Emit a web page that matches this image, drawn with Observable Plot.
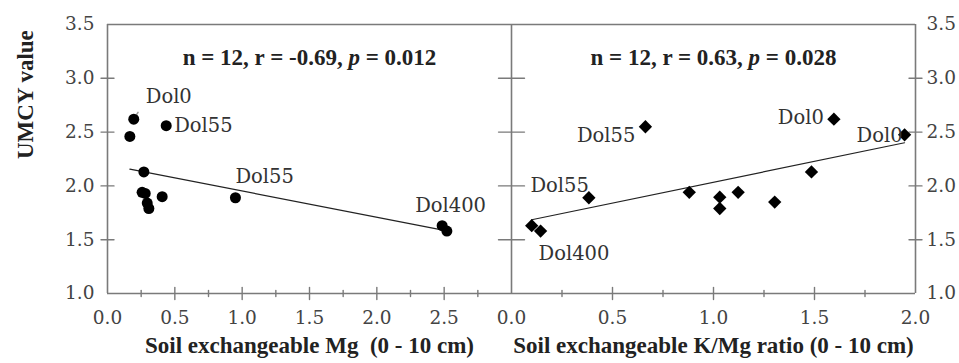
<!DOCTYPE html>
<html><head><meta charset="utf-8">
<script src="https://cdn.jsdelivr.net/npm/d3@7"></script>
<script src="https://cdn.jsdelivr.net/npm/@observablehq/plot@0.6"></script>
<style>
body{margin:0;background:#fff;}
#chart{position:relative;width:959px;height:363px;}
#chart svg{position:absolute;left:0;top:0;}
</style></head><body><div id="chart"></div>
<script>
// Left panel: Soil exchangeable Mg vs UMCY value
const mgX = [0.195, 0.166, 0.436, 0.27, 0.257, 0.28, 0.406, 0.295, 0.307, 0.95, 2.485, 2.52];
const mgY = [2.62, 2.46, 2.56, 2.13, 1.94, 1.93, 1.90, 1.84, 1.79, 1.89, 1.63, 1.58];
const mgLabelIdx = [0, 2, 9, 10];
const mgLabelText = ["Dol0", "Dol55", "Dol55", "Dol400"];
// Right panel: Soil exchangeable K/Mg ratio vs UMCY value
const kmgX = [0.10, 0.144, 0.383, 0.663, 0.88, 1.031, 1.031, 1.122, 1.303, 1.485, 1.596, 1.946];
const kmgY = [1.63, 1.58, 1.89, 2.55, 1.94, 1.895, 1.79, 1.94, 1.85, 2.13, 2.62, 2.475];
const kmgLabelIdx = [2, 1, 3, 10, 11];
const kmgLabelText = ["Dol55", "Dol400", "Dol55", "Dol0", "Dol0"];

const yTickLabels = [1.0, 1.5, 2.0, 2.5, 3.0, 3.5];
const yInnerTicks = [1.5, 2.0, 2.5, 3.0];
const mgTickLabels = [0.0, 0.5, 1.0, 1.5, 2.0, 2.5];
const mgMajor = [0.5, 1.0, 1.5, 2.0, 2.5];
const mgMinor = [0.25, 0.75, 1.25, 1.75, 2.25, 2.75];
const kmgTickLabels = [0.0, 0.5, 1.0, 1.5, 2.0];
const kmgMajor = [0.5, 1.0, 1.5];
const kmgMinor = [0.25, 0.75, 1.25, 1.75];

const statLeft = "n = 12, r = -0.69, p = 0.012";
const statRight = "n = 12, r = 0.63, p = 0.028";
const yTitle = "UMCY value";
const xTitleLeft = "Soil exchangeable Mg  (0 - 10 cm)";
const xTitleRight = "Soil exchangeable K/Mg ratio (0 - 10 cm)";

const W = 959, H = 363;
const AX = "#7a7a7a";
const TXT = "#333";
const BOLD = "'Liberation Serif', serif";
const REG = "DejaVu Serif";
const line = {draw(ctx, l) { ctx.moveTo(0, 0); ctx.lineTo(0, -l); }};
const leader = {draw(ctx, l) { ctx.moveTo(0, -5); ctx.lineTo(0, -l); }};
const fmt = d3.format(".1f");

const mgPts = mgX.map((x, i) => ({x, y: mgY[i]}));
const kmgPts = kmgX.map((x, i) => ({x, y: kmgY[i]}));

function labels(pts, idx, texts, opts) {
  return idx.map((k, j) => Plot.text([pts[k]], {
    x: "x", y: "y", text: () => texts[j], fill: TXT, fontSize: 19.5, fontFamily: REG,
    ...opts[j]
  }));
}

const tickText = {tickSize: 0, tickFormat: fmt, label: null, fill: "#444", fontFamily: REG, fontSize: 18.5};

const left = Plot.plot({
  width: W, height: H,
  marginLeft: 107, marginRight: W - 511, marginTop: 24, marginBottom: 70,
  x: {domain: [0, 3]}, y: {domain: [1, 3.5]},
  style: {fontFamily: REG, fontSize: "19px", color: TXT, background: "transparent"},
  marks: [
    Plot.ruleX([0], {stroke: AX, strokeWidth: 1.6}),
    Plot.ruleY([1], {stroke: AX, strokeWidth: 1.6}),
    Plot.ruleY([3.5], {stroke: AX, strokeWidth: 1.6}),
    Plot.vector(yInnerTicks, {x: () => 0, y: d => d, length: 13, rotate: 90, shape: line, stroke: AX, strokeWidth: 1.4}),
    Plot.vector(mgMajor, {x: d => d, y: () => 1, length: 12, rotate: 0, shape: line, stroke: AX, strokeWidth: 1.4}),
    Plot.vector(mgMinor, {x: d => d, y: () => 1, length: 6, rotate: 0, shape: line, stroke: AX, strokeWidth: 1.4}),
    Plot.axisY(yTickLabels, {anchor: "left", tickPadding: 13, ...tickText}),
    Plot.axisX(mgTickLabels, {anchor: "bottom", tickPadding: 17, ...tickText}),
    Plot.linearRegressionY(mgPts, {x: "x", y: "y", ci: 0, stroke: "#222", strokeWidth: 1.2}),
    Plot.vector([mgPts[0]], {x: "x", y: "y", length: 19, rotate: 32, shape: leader, stroke: "#999", strokeWidth: 1.6, strokeDasharray: "2,1.5"}),
    Plot.dot(mgPts, {x: "x", y: "y", r: 5.5, fill: "#000", stroke: null}),
    ...labels(mgPts, mgLabelIdx, mgLabelText, [
      {textAnchor: "start", dx: 12, dy: -22},
      {textAnchor: "start", dx: 8, dy: 0},
      {textAnchor: "start", dx: 0, dy: -21},
      {textAnchor: "start", dx: -27, dy: -19.5}
    ]),
    Plot.text([statLeft], {frameAnchor: "top", dy: 24, fontWeight: "bold", fontSize: 23, fill: "#222", fontFamily: BOLD}),
    Plot.text([yTitle], {frameAnchor: "left", dx: -82, rotate: -90, fontWeight: "bold", fontSize: 23, fill: "#222", fontFamily: BOLD}),
    Plot.text([xTitleLeft], {frameAnchor: "bottom", dy: 59, fontWeight: "bold", fontSize: 23, fill: "#222", fontFamily: BOLD})
  ]
});

const right = Plot.plot({
  width: W, height: H,
  marginLeft: 511, marginRight: W - 915, marginTop: 24, marginBottom: 70,
  x: {domain: [0, 2]}, y: {domain: [1, 3.5]},
  style: {fontFamily: REG, fontSize: "19px", color: TXT, background: "transparent"},
  marks: [
    Plot.ruleX([0], {stroke: AX, strokeWidth: 1.6}),
    Plot.ruleX([2], {stroke: AX, strokeWidth: 1.6}),
    Plot.ruleY([1], {stroke: AX, strokeWidth: 1.6}),
    Plot.ruleY([3.5], {stroke: AX, strokeWidth: 1.6}),
    Plot.vector(yInnerTicks, {x: () => 0, y: d => d, length: 26, rotate: 90, anchor: "middle", shape: line, stroke: AX, strokeWidth: 1.4}),
    Plot.vector(yInnerTicks, {x: () => 2, y: d => d, length: 13, rotate: -90, shape: line, stroke: AX, strokeWidth: 1.4}),
    Plot.vector(kmgMajor, {x: d => d, y: () => 1, length: 12, rotate: 0, shape: line, stroke: AX, strokeWidth: 1.4}),
    Plot.vector(kmgMinor, {x: d => d, y: () => 1, length: 6, rotate: 0, shape: line, stroke: AX, strokeWidth: 1.4}),
    Plot.axisY(yTickLabels, {anchor: "right", tickPadding: 11, ...tickText}),
    Plot.axisX(kmgTickLabels, {anchor: "bottom", tickPadding: 17, ...tickText}),
    Plot.linearRegressionY(kmgPts, {x: "x", y: "y", ci: 0, stroke: "#222", strokeWidth: 1.2}),
    Plot.dot(kmgPts, {x: "x", y: "y", r: 6, symbol: "diamond2", fill: "#000", stroke: null}),
    ...labels(kmgPts, kmgLabelIdx, kmgLabelText, [
      {textAnchor: "end", dx: 0, dy: -12},
      {textAnchor: "start", dx: -2, dy: 22.5},
      {textAnchor: "end", dx: -10, dy: 9},
      {textAnchor: "end", dx: -10, dy: -1},
      {textAnchor: "end", dx: -2, dy: 1}
    ]),
    Plot.text([statRight], {frameAnchor: "top", dy: 24, fontWeight: "bold", fontSize: 23, fill: "#222", fontFamily: BOLD}),
    Plot.text([xTitleRight], {frameAnchor: "bottom", dy: 59, fontWeight: "bold", fontSize: 23, fill: "#222", fontFamily: BOLD})
  ]
});

// italicise the "p" in the statistics lines
for (const svg of [left, right]) {
  d3.select(svg).selectAll("text").filter(function() {
    return this.textContent.startsWith("n = ");
  }).each(function() {
    const s = this.textContent;
    const el = d3.select(this);
    el.text(null);
    s.split(/(p)/).forEach(part => {
      const t = el.append("tspan").text(part);
      if (part === "p") t.attr("font-style", "italic");
    });
  });
}

const chart = document.getElementById("chart");
chart.appendChild(left);
chart.appendChild(right);
</script>
</body></html>
